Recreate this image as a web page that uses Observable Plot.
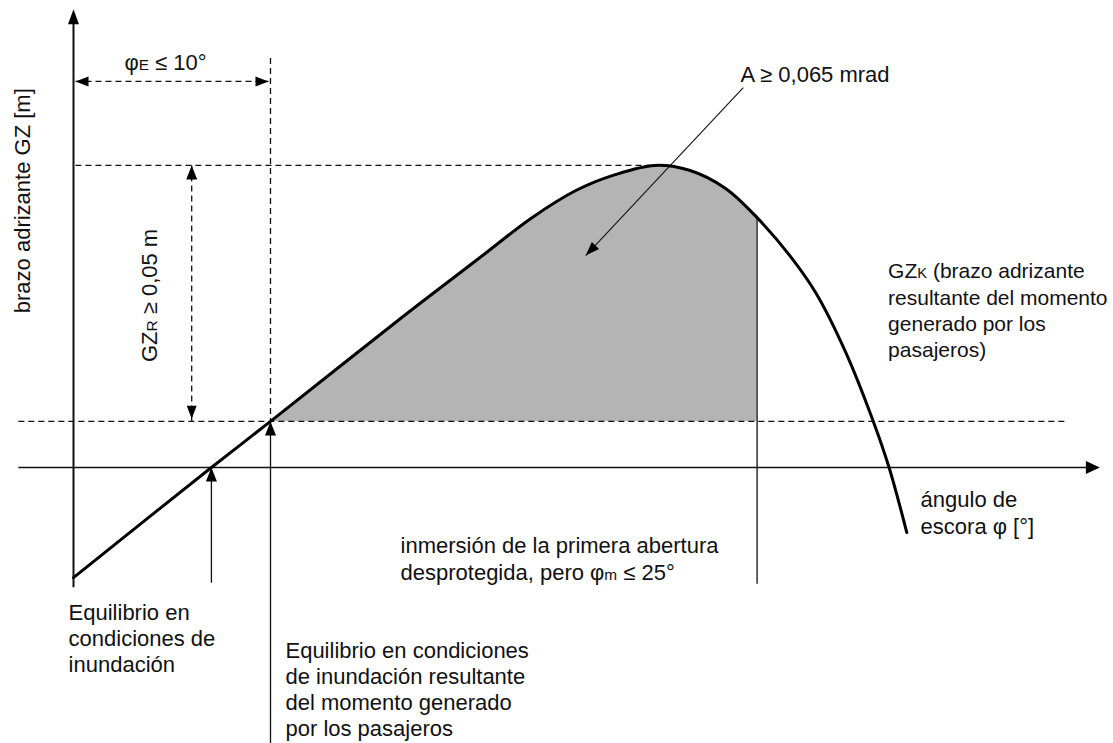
<!DOCTYPE html>
<html><head><meta charset="utf-8">
<script src="https://cdn.jsdelivr.net/npm/d3@7"></script>
<script src="https://cdn.jsdelivr.net/npm/@observablehq/plot@0.6"></script>
<style>
html,body{margin:0;padding:0;background:#fff;}
#chart{width:1113px;height:743px;overflow:hidden;}
</style></head><body><div id="chart"></div>
<script>
// ---------- data (heel angle φ in degrees, righting lever GZ in metres) ----------
const curvePhi = [0, 7.0, 10.0, 16.6, 20.7, 23.2, 25.5, 27.5, 29.5, 31.3, 33.1, 34.7, 36.4, 37.7, 39.2, 40.6, 41.4, 42.3];
const curveGZ  = [-0.0215, 0, 0.009, 0.0291, 0.0412, 0.0486, 0.0541, 0.0572, 0.0590, 0.0580, 0.0545, 0.0488, 0.0412, 0.0340, 0.0225, 0.009, 0, -0.0127];
const phiEquilibrium = 7.0;            // equilibrium, flooded
const phiEquilibriumPassengers = 10.0; // equilibrium with passenger moment (φE ≤ 10°)
const phiImmersion = 34.7;             // immersion of first unprotected opening (φm)
const gzEquilibriumPassengers = 0.009;
const gzMax = 0.059;                   // GZR = gzMax − gzEquilibriumPassengers = 0.05 m

const labelTexts = {
  yAxis: "brazo adrizante GZ [m]",
  phiE: "φ_{E} ≤ 10°",
  area: "A ≥ 0,065 mrad",
  gzr: "GZ_{R} ≥ 0,05 m",
  gzk: "GZ_{K} (brazo adrizante\nresultante del momento\ngenerado por los\npasajeros)",
  xAxis: "ángulo de\nescora φ [°]",
  immersion: "inmersión de la primera abertura\ndesprotegida, pero φ_{m} ≤ 25°",
  eq1: "Equilibrio en\ncondiciones de\ninundación",
  eq2: "Equilibrio en condiciones\nde inundación resultante\ndel momento generado\npor los pasajeros"
};

// ---------- layout (data units) ----------
const axisXExtent = [-2.8, 52.1];
const axisYExtent = [-0.0234, 0.0895];
const baseDashExtent = [-2.8, 50.4];
const dimY = 0.0754;       // level of φE dimension arrow
const dimX = 6.0;          // position of GZR dimension arrow
const vDashTop = 0.080;
const arrowEqBottom = -0.0225;
const arrowEqPBottom = -0.054;
const immersionBottom = -0.0227;
const leader = {x1: 34.0, y1: 0.0742, x2: 26.0, y2: 0.0414};

const curve = curvePhi.map((phi, i) => ({phi, gz: curveGZ[i]}));
const shaded = curve.filter(d => d.phi >= phiEquilibriumPassengers && d.phi <= phiImmersion);

function arrowHead(angleDeg, len, halfW) {
  const a = angleDeg * Math.PI / 180, dx = Math.cos(a), dy = Math.sin(a);
  return {draw(ctx) {
    ctx.moveTo(0, 0);
    ctx.lineTo(-len * dx - halfW * dy, -len * dy + halfW * dx);
    ctx.lineTo(-len * dx + halfW * dy, -len * dy - halfW * dx);
    ctx.closePath();
  }};
}
const UP = arrowHead(-90, 14, 5.5), DOWN = arrowHead(90, 13, 5), LEFT = arrowHead(180, 13, 5),
      RIGHT = arrowHead(0, 13, 5), AXRIGHT = arrowHead(0, 14, 6.5), AXUP = arrowHead(-90, 15, 5.5),
      LEAD = arrowHead(134, 14, 5);

const dash = "6,4";
const font = "'Liberation Sans', Arial, Helvetica, sans-serif";
const fs = 22, lh = 1.2;
const crv = "catmull-rom";

const plot = Plot.plot({
  width: 1113, height: 743,
  margin: 0,
  style: {background: "#fff", fontFamily: font, fontSize: fs + "px", overflow: "visible"},
  x: {domain: [0, 50], range: [73, 1058], axis: null},
  y: {domain: [0, 0.05], range: [467, 211], axis: null},
  marks: [
    Plot.areaY(shaded, {x: "phi", y1: gzEquilibriumPassengers, y2: "gz", fill: "#b4b4b4", curve: crv}),
    // dashed reference lines
    Plot.link([{x1: baseDashExtent[0], x2: baseDashExtent[1], y1: gzEquilibriumPassengers, y2: gzEquilibriumPassengers},
               {x1: 0.1, x2: curvePhi[curveGZ.indexOf(gzMax)], y1: gzMax, y2: gzMax},
               {x1: phiEquilibriumPassengers, x2: phiEquilibriumPassengers, y1: vDashTop, y2: gzEquilibriumPassengers},
               {x1: 0.1, x2: phiEquilibriumPassengers - 0.1, y1: dimY, y2: dimY},
               {x1: dimX, x2: dimX, y1: gzMax, y2: gzEquilibriumPassengers}],
      {x1: "x1", x2: "x2", y1: "y1", y2: "y2", stroke: "#111", strokeWidth: 1.3, strokeDasharray: dash}),
    // axes
    Plot.link([{x1: axisXExtent[0], x2: axisXExtent[1] - 0.5, y1: 0, y2: 0}],
      {x1: "x1", x2: "x2", y1: "y1", y2: "y2", stroke: "#111", strokeWidth: 1.5}),
    Plot.link([{x1: 0, x2: 0, y1: axisYExtent[0], y2: axisYExtent[1] - 0.002}],
      {x1: "x1", x2: "x2", y1: "y1", y2: "y2", stroke: "#111", strokeWidth: 2}),
    // solid pointer lines
    Plot.link([{x1: phiEquilibrium, x2: phiEquilibrium, y1: arrowEqBottom, y2: -0.001},
               {x1: phiEquilibriumPassengers, x2: phiEquilibriumPassengers, y1: arrowEqPBottom, y2: gzEquilibriumPassengers - 0.001},
               {x1: phiImmersion, x2: phiImmersion, y1: immersionBottom, y2: curveGZ[curvePhi.indexOf(phiImmersion)]}],
      {x1: "x1", x2: "x2", y1: "y1", y2: "y2", stroke: "#111", strokeWidth: 1.3}),
    Plot.link([leader], {x1: "x1", x2: "x2", y1: "y1", y2: "y2", stroke: "#111", strokeWidth: 1.1}),
    // GZ curve
    Plot.line(curve, {x: "phi", y: "gz", stroke: "#000", strokeWidth: 3, curve: crv}),
    // arrow heads
    Plot.dot([{x: axisXExtent[1], y: 0}], {x: "x", y: "y", symbol: AXRIGHT, fill: "#000", stroke: "none"}),
    Plot.dot([{x: 0, y: axisYExtent[1]}], {x: "x", y: "y", symbol: AXUP, fill: "#000", stroke: "none"}),
    Plot.dot([{x: phiEquilibrium, y: 0}, {x: phiEquilibriumPassengers, y: gzEquilibriumPassengers}, {x: dimX, y: gzMax}],
      {x: "x", y: "y", symbol: UP, fill: "#000", stroke: "none"}),
    Plot.dot([{x: dimX, y: gzEquilibriumPassengers + 0.0005}], {x: "x", y: "y", symbol: DOWN, fill: "#000", stroke: "none"}),
    Plot.dot([{x: 0.1, y: dimY}], {x: "x", y: "y", symbol: LEFT, fill: "#000", stroke: "none"}),
    Plot.dot([{x: phiEquilibriumPassengers - 0.1, y: dimY}], {x: "x", y: "y", symbol: RIGHT, fill: "#000", stroke: "none"}),
    Plot.dot([{x: leader.x2, y: leader.y2}], {x: "x", y: "y", symbol: LEAD, fill: "#000", stroke: "none"}),
    // texts
    Plot.text([labelTexts.yAxis], {x: -2.59, y: 0.0521, text: d => d, rotate: -90, fill: "#111", fontSize: fs}),
    Plot.text([labelTexts.gzr], {x: 3.9, y: 0.0336, text: d => d, rotate: -90, fill: "#111", fontSize: fs}),
    Plot.text([labelTexts.phiE], {x: 4.67, y: 0.0791, text: d => d, fill: "#111", fontSize: fs}),
    Plot.text([labelTexts.area], {x: 33.86, y: 0.0766, text: d => d, textAnchor: "start", fill: "#111", fontSize: fs}),
    Plot.text([labelTexts.gzk], {x: 41.35, y: 0.0309, text: d => d, textAnchor: "start", lineHeight: 1.25, fill: "#111", fontSize: 21}),
    Plot.text([labelTexts.xAxis], {x: 43.0, y: -0.0087, text: d => d, textAnchor: "start", lineHeight: lh, fill: "#111", fontSize: fs}),
    Plot.text([labelTexts.immersion], {x: 16.6, y: -0.0177, text: d => d, textAnchor: "start", lineHeight: lh, fill: "#111", fontSize: fs}),
    Plot.text([labelTexts.eq1], {x: -0.25, y: -0.0332, text: d => d, textAnchor: "start", lineHeight: lh, fill: "#111", fontSize: fs}),
    Plot.text([labelTexts.eq2], {x: 10.76, y: -0.0432, text: d => d, textAnchor: "start", lineHeight: 1.17, fill: "#111", fontSize: fs})
  ]
});

// subscripts: turn "_{X}" into a smaller tspan
plot.querySelectorAll("text, tspan").forEach(el => {
  Array.from(el.childNodes).forEach(node => {
    if (node.nodeType !== 3 || !/_\{/.test(node.nodeValue)) return;
    const parts = node.nodeValue.split(/_\{([^}]*)\}/);
    const frag = document.createDocumentFragment();
    parts.forEach((p, i) => {
      if (i % 2 === 0) { if (p) frag.appendChild(document.createTextNode(p)); }
      else {
        const t = document.createElementNS("http://www.w3.org/2000/svg", "tspan");
        t.setAttribute("font-size", "70%");
        t.textContent = p;
        frag.appendChild(t);
      }
    });
    el.replaceChild(frag, node);
  });
});
document.getElementById("chart").appendChild(plot);
</script></body></html>
